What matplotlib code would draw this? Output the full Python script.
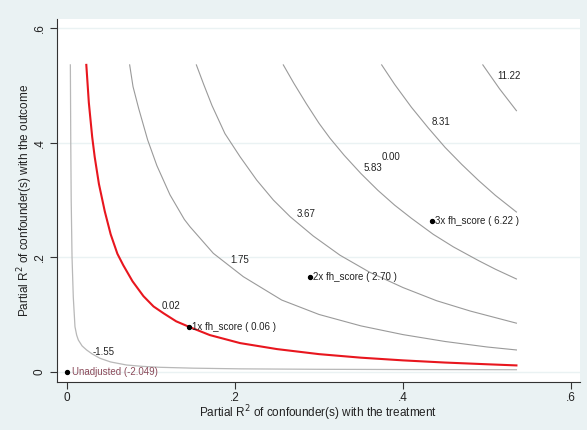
import matplotlib.pyplot as plt

plt.rcParams['font.family'] = ['Liberation Sans', 'DejaVu Sans']

# contour lines (x = partial R2 with treatment, y = with outcome)
c_m155_x = [0.004, 0.0045, 0.005, 0.006, 0.0075, 0.0095, 0.0115, 0.0135, 0.018, 0.0234, 0.030,
            0.0393, 0.052, 0.071, 0.09, 0.1107, 0.15, 0.206, 0.30, 0.40, 0.535]
c_m155_y = [0.536, 0.40, 0.30, 0.20, 0.13, 0.0786, 0.064, 0.0554, 0.045, 0.0379, 0.031,
            0.0234, 0.017, 0.0117, 0.0093, 0.0077, 0.0062, 0.005, 0.0042, 0.0038, 0.0035]

c_002_x = [0.023, 0.026, 0.030, 0.033, 0.038, 0.045, 0.052, 0.060, 0.067, 0.078, 0.091, 0.103,
           0.115, 0.130, 0.145, 0.170, 0.206, 0.25, 0.30, 0.35, 0.40, 0.45, 0.50, 0.535]
c_002_y = [0.536, 0.47, 0.41, 0.375, 0.328, 0.28, 0.24, 0.206, 0.186, 0.158, 0.132, 0.114,
           0.102, 0.088, 0.0786, 0.064, 0.050, 0.0395, 0.0307, 0.0245, 0.0198, 0.016, 0.013, 0.011]

c_175_x = [0.0746, 0.0786, 0.0853, 0.096, 0.107, 0.1226, 0.1397, 0.1464, 0.1742, 0.2099, 0.2556,
           0.30, 0.35, 0.40, 0.45, 0.50, 0.535]
c_175_y = [0.536, 0.498, 0.46, 0.405, 0.36, 0.309, 0.266, 0.2533, 0.2068, 0.166, 0.1252,
           0.100, 0.080, 0.0648, 0.0528, 0.0432, 0.038]

c_367_x = [0.154, 0.1627, 0.1726, 0.188, 0.206, 0.2258, 0.2456, 0.2655, 0.2932, 0.325, 0.36,
           0.40, 0.44, 0.48, 0.535]
c_367_y = [0.536, 0.502, 0.465, 0.416, 0.3756, 0.3348, 0.300, 0.271, 0.237, 0.2035, 0.174,
           0.147, 0.124, 0.106, 0.0848]

c_583_x = [0.2575, 0.27, 0.285, 0.30, 0.313, 0.33, 0.35, 0.37, 0.39, 0.41, 0.436, 0.46, 0.49, 0.51, 0.535]
c_583_y = [0.536, 0.504, 0.468, 0.434, 0.408, 0.378, 0.346, 0.317, 0.291, 0.268, 0.240, 0.218, 0.194, 0.179, 0.162]

c_831_x = [0.3746, 0.39, 0.41, 0.43, 0.45, 0.47, 0.49, 0.51, 0.535]
c_831_y = [0.536, 0.502, 0.462, 0.426, 0.392, 0.362, 0.334, 0.308, 0.279]

c_1122_x = [0.495, 0.505, 0.515, 0.525, 0.535]
c_1122_y = [0.536, 0.515, 0.494, 0.475, 0.456]

# contour labels
lab_text = ['-1.55', '0.02', '1.75', '3.67', '5.83', '0.00', '8.31', '11.22']
lab_x = [0.0435, 0.124, 0.206, 0.2845, 0.3646, 0.3857, 0.445, 0.526]
lab_y = [0.035, 0.115, 0.195, 0.2755, 0.3553, 0.3755, 0.4367, 0.517]

# benchmark points
pt_x = [0.145, 0.289, 0.434]
pt_y = [0.0786, 0.165, 0.264]
pt_lab = ['1x fh_score ( 0.06 )', '2x fh_score ( 2.70 )', '3x fh_score ( 6.22 )']
unadj_lab = 'Unadjusted (-2.049)'

bg = '#eaf2f3'
fig = plt.figure(figsize=(5.87, 4.30), dpi=100)
fig.patch.set_facecolor(bg)
ax = fig.add_axes([0.0971, 0.1116, 0.891, 0.844])
ax.set_facecolor('white')

for y in [0, 0.2, 0.4, 0.6]:
    ax.axhline(y, color=bg, lw=1.0, zorder=0)

ax.plot(c_m155_x, c_m155_y, color='#b8b8b8', lw=0.9)
ax.plot(c_175_x, c_175_y, color='#9a9a9a', lw=0.8)
ax.plot(c_367_x, c_367_y, color='#9a9a9a', lw=0.8)
ax.plot(c_583_x, c_583_y, color='#9a9a9a', lw=0.8)
ax.plot(c_831_x, c_831_y, color='#9a9a9a', lw=0.8)
ax.plot(c_1122_x, c_1122_y, color='#9a9a9a', lw=0.8)
ax.plot(c_002_x, c_002_y, color='#e8161e', lw=1.5)

for t, x, y in zip(lab_text, lab_x, lab_y):
    ax.text(x, y, t, fontsize=7, color='#222222', ha='center', va='center')

ax.scatter(pt_x, pt_y, s=8, color='black', zorder=5)
for t, x, y in zip(pt_lab, pt_x, pt_y):
    ax.text(x + 0.004, y, t, fontsize=7, color='#222222', ha='left', va='center')
ax.scatter([0], [0], s=8, color='black', zorder=5)
ax.text(0.006, 0, unadj_lab, fontsize=7, color='#8b4a5a', ha='left', va='center')

ax.set_xlim(-0.0119, 0.6107)
ax.set_ylim(-0.018, 0.616)
ax.set_xticks([0, 0.2, 0.4, 0.6])
ax.set_xticklabels(['0', '.2', '.4', '.6'])
ax.set_yticks([0, 0.2, 0.4, 0.6])
ax.set_yticklabels(['0', '.2', '.4', '.6'], rotation=90, va='center')
ax.tick_params(labelsize=8.5, length=5, color='#333333', labelcolor='#222222')
ax.tick_params(axis='x', pad=2)
ax.tick_params(axis='y', pad=3)
for s in ['top', 'right']:
    ax.spines[s].set_visible(False)
for s in ['left', 'bottom']:
    ax.spines[s].set_color('#333333')
ax.set_xlabel('Partial R$^2$ of confounder(s) with the treatment', fontsize=8.5, color='#222222', labelpad=0)
ax.set_ylabel('Partial R$^2$ of confounder(s) with the outcome', fontsize=8.5, color='#222222')
ax.yaxis.set_label_coords(-0.042, 0.5)

plt.savefig('out.png', dpi=100, facecolor=bg)
